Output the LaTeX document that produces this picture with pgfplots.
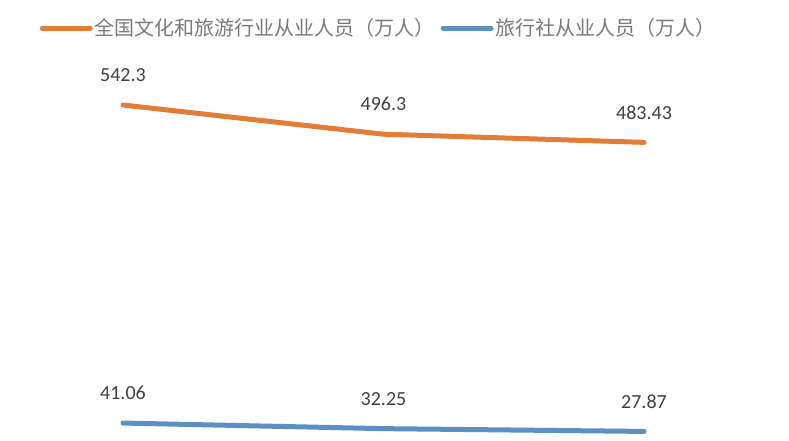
\documentclass[border=0pt]{standalone}
\usepackage{pgfplots}
\pgfplotsset{compat=1.18}
\usepackage{fontspec}
\setmainfont{Carlito}
\newfontfamily\cjk{Noto Sans CJK SC}
\definecolor{myorange}{HTML}{E27C36}
\definecolor{myblue}{HTML}{5C8FC4}
\definecolor{numgray}{HTML}{404040}
\definecolor{leggray}{HTML}{7A7A7A}
\begin{document}
\begin{tikzpicture}
\begin{axis}[
  at={(0pt,0pt)}, anchor=south west,
  scale only axis, width=789pt, height=440pt,
  xmin=-0.4722, xmax=2.5566,
  ymin=14.34, ymax=707.8,
  axis lines=none, ticks=none, clip=false,
  point meta=explicit symbolic,
  nodes near coords,
  every node near coord/.append style={anchor=center, yshift=30pt,
     font=\fontsize{20}{20}\selectfont, text=numgray},
  legend columns=2,
  legend style={at={(rel axis cs:0.4800,0.936)}, anchor=center, draw=none, fill=none,
     font=\cjk\fontsize{20}{20}\selectfont, text=leggray,
     /tikz/every even column/.append style={column sep=4pt}},
  legend image code/.code={\draw[#1, line width=5pt, line cap=round] (0pt,0pt) -- (48pt,0pt);},
]
\addplot[myorange, line width=5pt, line cap=round, line join=round] coordinates {
  (0,542.3) [542.3]
  (1,496.3) [496.3]
  (2,483.43) [483.43]
};
\addlegendentry{全国文化和旅游行业从业人员（万人）}
\addplot[myblue, line width=5pt, line cap=round, line join=round] coordinates {
  (0,41.06) [41.06]
  (1,32.25) [32.25]
  (2,27.87) [27.87]
};
\addlegendentry{旅行社从业人员（万人）}
\path (rel axis cs:0,0) rectangle (rel axis cs:1,1);
\end{axis}
\end{tikzpicture}
\end{document}
